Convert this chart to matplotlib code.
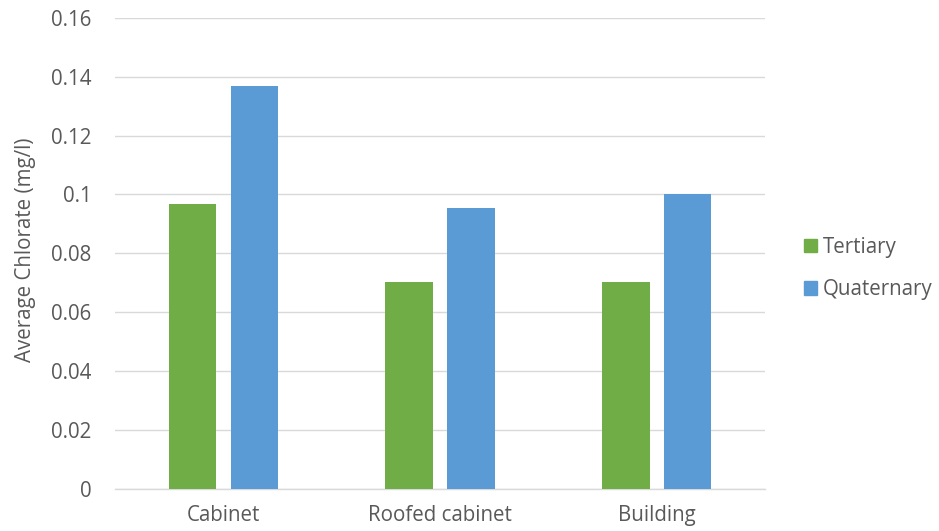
import numpy as np
import matplotlib
matplotlib.use("Agg")
import matplotlib.pyplot as plt
from matplotlib.patches import Patch

sites = ["Cabinet", "Roofed cabinet", "Building"]
tertiary = [0.0967, 0.0702, 0.0702]
quaternary = [0.1368, 0.0954, 0.1001]
yticks = [0, 0.02, 0.04, 0.06, 0.08, 0.1, 0.12, 0.14, 0.16]
ytick_labels = ["0", "0.02", "0.04", "0.06", "0.08", "0.1", "0.12", "0.14", "0.16"]

green = "#70AD47"
blue = "#5B9BD5"
grey = "#595959"
fs = 14.8

plt.rcParams["font.family"] = ["Open Sans", "DejaVu Sans"]

fig = plt.figure(figsize=(9.39, 5.31), dpi=100)
ax = fig.add_axes([0.1225, 0.0797, 0.6922, 0.8868])

x = np.arange(len(sites))
w = 0.22
ax.bar(x - 0.143, tertiary, width=w, color=green, zorder=3)
ax.bar(x + 0.143, quaternary, width=w, color=blue, zorder=3)

ax.set_xlim(-0.5, len(sites) - 0.5)
ax.set_ylim(0, 0.16)
ax.set_yticks(yticks)
ax.set_yticklabels(ytick_labels)
ax.set_xticks(x)
ax.set_xticklabels(sites)
ax.tick_params(axis="y", length=0, pad=17, labelsize=fs, labelcolor=grey)
ax.tick_params(axis="x", length=0, pad=12, labelsize=fs, labelcolor=grey)

ax.grid(axis="y", color="#D9D9D9", linewidth=1.0, zorder=0)
for side in ["top", "right", "left"]:
    ax.spines[side].set_visible(False)
ax.spines["bottom"].set_color("#D9D9D9")
ax.spines["bottom"].set_linewidth(1.0)

fig.text(26 / 939, 1 - 250 / 531, "Average Chlorate (mg/l)", rotation=90,
         ha="center", va="center", fontsize=fs, color=grey)

handles = [Patch(color=green, label="Tertiary"), Patch(color=blue, label="Quaternary")]
fig.legend(handles=handles, loc="center left", bbox_to_anchor=(804 / 939, 1 - 268.5 / 531),
           frameon=False, fontsize=fs, labelcolor=grey, handlelength=0.65,
           handleheight=0.65, handletextpad=0.25, labelspacing=1.05,
           borderpad=0, borderaxespad=0)

fig.savefig("out.png", dpi=100)
